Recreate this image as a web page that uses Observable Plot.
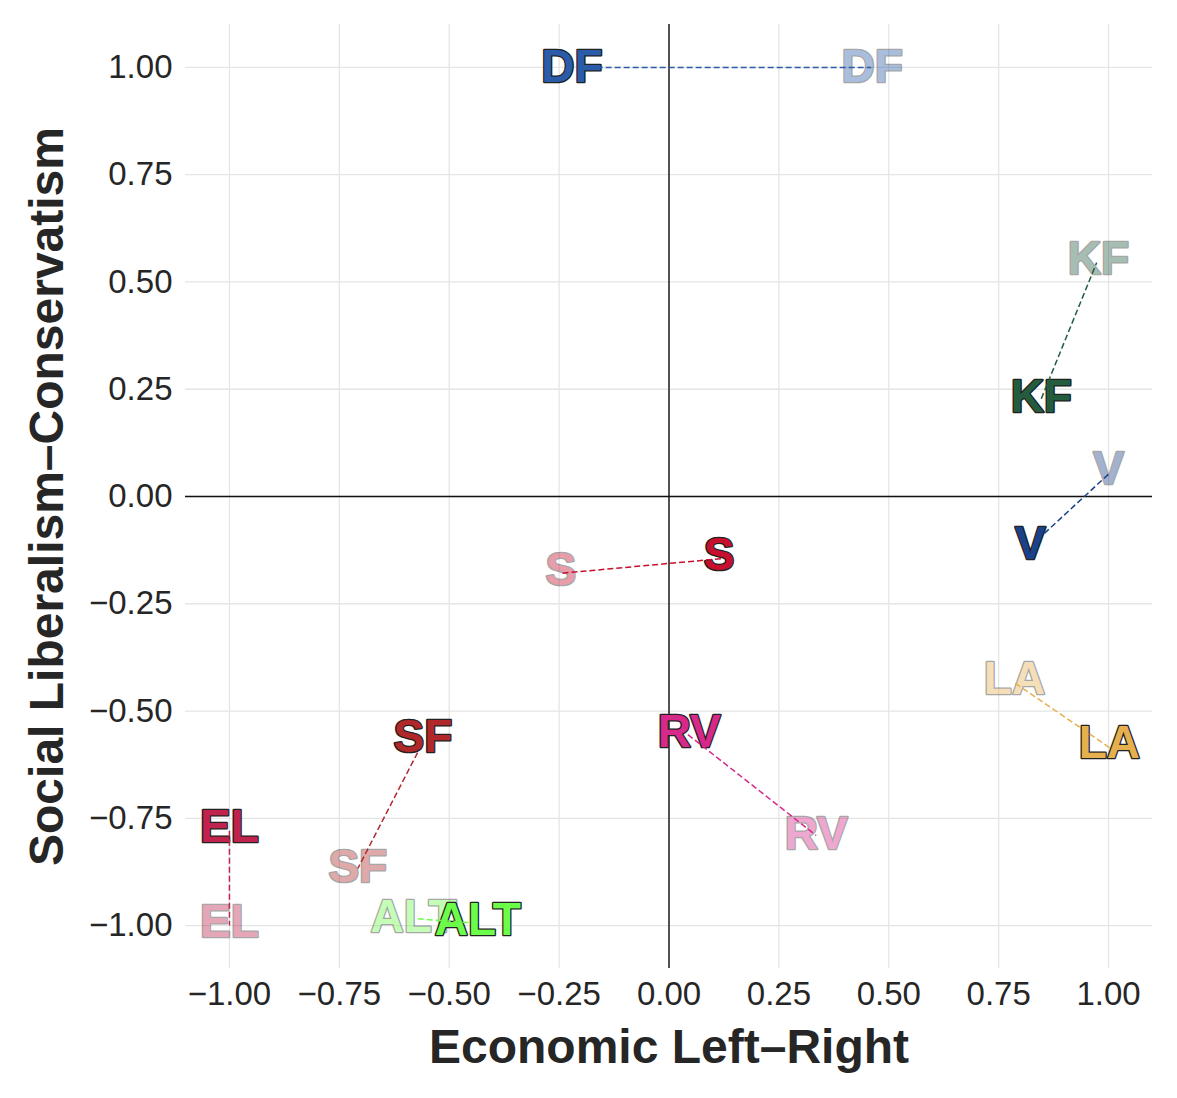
<!DOCTYPE html>
<html><head><meta charset="utf-8">
<script src="https://cdn.jsdelivr.net/npm/d3@7"></script>
<script src="https://cdn.jsdelivr.net/npm/@observablehq/plot@0.6"></script>
<style>body{margin:0;background:#fff} svg{display:block}</style>
</head><body><div id="chart"></div>
<script>
const parties = ["DF","KF","V","S","LA","RV","SF","EL","ALT"];
const partyColors = ["#2a5caa","#245c3e","#1a428a","#c8102e","#e6b04f","#d6298a","#b0282a","#c0234e","#6cfc4a"];
// current (solid) positions
const newX = [-0.185, 0.847, 0.854, 0.118, 1.002, 0.043, -0.572, -1.0, -0.456];
const newY = [1.0, 0.228, -0.086, -0.145, -0.585, -0.555, -0.597, -0.779, -0.993];
// earlier (faded) positions
const oldX = [0.46, 0.973, 1.002, -0.246, 0.786, 0.335, -0.708, -1.0, -0.576];
const oldY = [1.0, 0.545, 0.054, -0.179, -0.434, -0.790, -0.867, -1.0, -0.984];
// label anchor positions (repelled from points)
const newLabelX = [-0.221, 0.847, 0.822, 0.114, 1.002, 0.046, -0.560, -1.0, -0.435];
const newLabelY = [1.005, 0.235, -0.107, -0.133, -0.571, -0.545, -0.557, -0.767, -0.984];
const oldLabelX = [0.462, 0.977, 1.0, -0.246, 0.786, 0.335, -0.708, -1.0, -0.581];
const oldLabelY = [1.005, 0.557, 0.068, -0.168, -0.422, -0.783, -0.860, -0.988, -0.977];
const tickValues = [-1, -0.75, -0.5, -0.25, 0, 0.25, 0.5, 0.75, 1];
const xTitle = "Economic Left–Right";
const yTitle = "Social Liberalism–Conservatism";

const data = parties.map((p, i) => ({
  party: p, color: partyColors[i],
  newX: newX[i], newY: newY[i], oldX: oldX[i], oldY: oldY[i],
  nlx: newLabelX[i], nly: newLabelY[i], olx: oldLabelX[i], oly: oldLabelY[i]
}));

const fmt = d3.format(".2f");
const labelStyle = {
  text: "party", fill: "color", fontSize: 46, fontWeight: "bold",
  stroke: "#222", strokeWidth: 2.6, paintOrder: "stroke", dy: 2
};

const plot = Plot.plot({
  width: 1177, height: 1098,
  marginLeft: 185, marginRight: 25, marginTop: 24, marginBottom: 130,
  style: {fontFamily: "'Liberation Sans', Arial, sans-serif", background: "#fff", color: "#262626"},
  color: {type: "identity"},
  x: {domain: [-1.1, 1.1]},
  y: {domain: [-1.1, 1.1]},
  marks: [
    Plot.gridX(tickValues, {stroke: "#e5e5e5", strokeOpacity: 1, strokeWidth: 1.3}),
    Plot.gridY(tickValues, {stroke: "#e5e5e5", strokeOpacity: 1, strokeWidth: 1.3}),
    Plot.ruleX([0], {stroke: "#111", strokeWidth: 1.4}),
    Plot.ruleY([0], {stroke: "#111", strokeWidth: 1.4}),
    Plot.axisX(tickValues, {tickSize: 0, tickPadding: 13, fontSize: 33, tickFormat: fmt, label: null, fill: "#262626"}),
    Plot.axisY(tickValues, {tickSize: 0, tickPadding: 13, fontSize: 33, tickFormat: fmt, label: null, fill: "#262626"}),
    Plot.text(data, {x: "olx", y: "oly", ...labelStyle, opacity: 0.4}),
    Plot.text(data, {x: "nlx", y: "nly", ...labelStyle}),
    Plot.link(data, {x1: "newX", y1: "newY", x2: "oldX", y2: "oldY", stroke: "color", strokeWidth: 1.5, strokeDasharray: "6,3"}),
    Plot.text([xTitle], {frameAnchor: "bottom", textAnchor: "middle", lineAnchor: "middle", dy: 79, fontSize: 48, fontWeight: "bold", fill: "#262626"}),
    Plot.text([yTitle], {frameAnchor: "left", textAnchor: "middle", lineAnchor: "middle", dx: -138, rotate: -90, fontSize: 48, fontWeight: "bold", fill: "#262626"})
  ]
});
document.getElementById("chart").appendChild(plot);
</script>
</body></html>
